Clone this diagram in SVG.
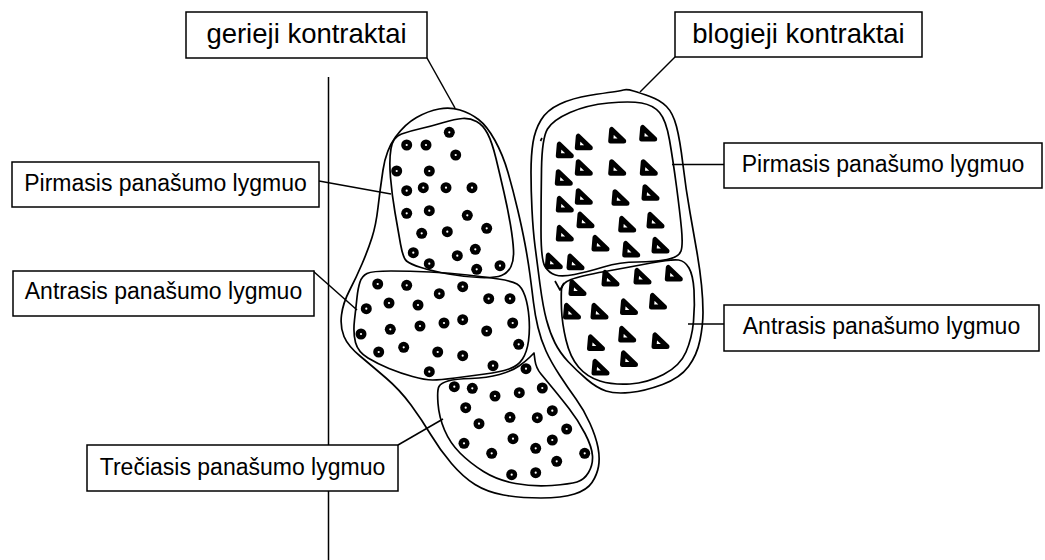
<svg xmlns="http://www.w3.org/2000/svg" width="1045" height="560" viewBox="0 0 1045 560">
<style>
.box{fill:#fff;stroke:#000;stroke-width:1.5}
.lbl{font-family:"Liberation Sans",Arial,sans-serif;font-size:23px;fill:#000;text-anchor:middle}
.big{font-size:27.5px}
.blob{fill:none;stroke:#000;stroke-width:1.7;stroke-linejoin:round}
.con{fill:none;stroke:#000;stroke-width:1.5}
</style>
<defs>
<g id="dot"><circle r="5.5" fill="#000"/><circle r="1.1" fill="#fff"/></g>
<polygon id="tri" points="-5,-6.5 -6,5 7,5" fill="#fff" stroke="#000" stroke-width="5" stroke-linejoin="round"/>
</defs>
<rect width="1045" height="560" fill="#fff"/>

<g id="connectors">
<line class="con" x1="328.5" y1="77" x2="328.5" y2="560"/>
<line class="con" x1="427" y1="58" x2="455" y2="108"/>
<line class="con" x1="675" y1="57" x2="640" y2="92"/>
<line class="con" x1="319" y1="181" x2="391" y2="194"/>
<line class="con" x1="313" y1="271" x2="357" y2="310"/>
<line class="con" x1="672" y1="164.5" x2="724" y2="164.5"/>
<line class="con" x1="688" y1="324" x2="724" y2="324"/>
<line class="con" x1="398" y1="445" x2="443" y2="419"/>
</g>

<g id="good-outer">
<path class="blob" d="M439,109 Q450,107 460,110 Q470,113 478.5,119.5 Q487,126 495,140.5 Q503,155 508,172.5 Q513,190 517.5,209 Q522,228 525,244 Q528,260 530,275 Q532,290 533.5,302.5 Q535,315 538,327.5 Q541,340 546,351 Q551,362 559.5,375 Q568,388 576,399 Q584,410 590,423.5 Q596,437 598,447.5 Q600,458 598.5,466.5 Q597,475 592,482.5 Q587,490 574.5,494 Q562,498 541,498 Q520,498 503.5,495 Q487,492 475,484.5 Q463,477 451.5,463.5 Q440,450 431,435 Q422,420 411,405 Q400,390 386,378 Q372,366 360,356 Q348,346 344,336.5 Q340,327 341.5,315 Q343,303 349.5,290.5 Q356,278 362,264 Q368,250 372,237.5 Q376,225 378,207.5 Q380,190 383,170 Q386,150 395.5,137 Q405,124 416.5,117.5 Q428,111 439,109 Z"/>
</g>

<g id="good-level1">
<path class="blob" d="M391,148.5 Q393,137 401.5,134 Q410,131 421,128.5 Q432,126 443.5,122.5 Q455,119 462.5,118.5 Q470,118 476.5,121.5 Q483,125 487.5,133.5 Q492,142 496,158.5 Q500,175 504,192.5 Q508,210 510.5,225 Q513,240 513.5,250 Q514,260 511,266.5 Q508,273 501.5,275.5 Q495,278 480,277.5 Q465,277 448.5,274 Q432,271 421,267.5 Q410,264 406.5,261 Q403,258 400.5,244 Q398,230 395,212.5 Q392,195 390.5,177.5 Q389,160 391,148.5 Z"/>
<use href="#dot" x="449.3" y="132.3"/><use href="#dot" x="406.7" y="145"/><use href="#dot" x="426" y="145"/>
<use href="#dot" x="455.7" y="155"/><use href="#dot" x="396.7" y="171"/><use href="#dot" x="429.3" y="171"/>
<use href="#dot" x="406.7" y="190.7"/><use href="#dot" x="423.3" y="187.7"/><use href="#dot" x="446" y="187.7"/>
<use href="#dot" x="472" y="187.7"/><use href="#dot" x="406.7" y="213.3"/><use href="#dot" x="429.3" y="210.7"/>
<use href="#dot" x="467.3" y="215.3"/><use href="#dot" x="486.7" y="228.3"/><use href="#dot" x="421.7" y="233.3"/>
<use href="#dot" x="447.3" y="231.7"/><use href="#dot" x="413.3" y="252.7"/><use href="#dot" x="475.3" y="249.3"/>
<use href="#dot" x="457.3" y="255.7"/><use href="#dot" x="429.3" y="263.7"/><use href="#dot" x="476.7" y="269.3"/>
<use href="#dot" x="500" y="265.7"/>
</g>

<g id="good-level2">
<path class="blob" d="M360,282 Q362,276 367,273.5 Q372,271 391,271 Q410,271 430,272 Q450,273 467.5,275 Q485,277 498.5,279 Q512,281 517,284 Q522,287 525,296 Q528,305 529,317.5 Q530,330 528.5,341 Q527,352 522.5,359 Q518,366 509,369 Q500,372 485,374 Q470,376 455,378 Q440,380 432.5,380 Q425,380 412.5,376.5 Q400,373 389,368.5 Q378,364 368,358 Q358,352 355.5,342.5 Q353,333 354.5,320 Q356,307 357,297.5 Q358,288 360,282 Z"/>
<use href="#dot" x="377.7" y="284"/><use href="#dot" x="406.7" y="285.3"/><use href="#dot" x="439.3" y="293.7"/>
<use href="#dot" x="462.7" y="286.7"/><use href="#dot" x="488.7" y="298.7"/><use href="#dot" x="510" y="298.7"/>
<use href="#dot" x="389" y="303"/><use href="#dot" x="418" y="305"/><use href="#dot" x="366.3" y="308.7"/>
<use href="#dot" x="444" y="323"/><use href="#dot" x="462.7" y="319.7"/><use href="#dot" x="420" y="326"/>
<use href="#dot" x="512.7" y="323"/><use href="#dot" x="390.3" y="329.3"/><use href="#dot" x="361" y="334"/>
<use href="#dot" x="486.7" y="331"/><use href="#dot" x="518.7" y="344.3"/><use href="#dot" x="403.7" y="347.3"/>
<use href="#dot" x="378.7" y="352"/><use href="#dot" x="437.7" y="352"/><use href="#dot" x="462.7" y="355.7"/>
<use href="#dot" x="493" y="365.7"/><use href="#dot" x="429.3" y="371.7"/>
</g>

<g id="good-level3">
<path class="blob" d="M438,403.5 Q437,390 439,386.5 Q441,383 448,381 Q455,379 471,378.5 Q487,378 499.5,374.5 Q512,371 519,366 Q526,361 530,357 L534,353 L535,360.5 Q536,368 541,374 Q546,380 553,388.5 Q560,397 569,408.5 Q578,420 585,433.5 Q592,447 592.5,456 Q593,465 588.5,472.5 Q584,480 577,482 Q570,484 552,485.5 Q534,487 515.5,483.5 Q497,480 483.5,471.5 Q470,463 460,453 Q450,443 444.5,430 Q439,417 438,403.5 Z"/>
<use href="#dot" x="526" y="368.7"/>
<use href="#dot" x="454.3" y="386.7"/><use href="#dot" x="472.3" y="388.3"/><use href="#dot" x="495" y="396"/>
<use href="#dot" x="519.3" y="392.7"/><use href="#dot" x="542.3" y="388"/><use href="#dot" x="465.7" y="407.7"/>
<use href="#dot" x="479" y="423.7"/><use href="#dot" x="510" y="417.3"/><use href="#dot" x="537.3" y="417.7"/>
<use href="#dot" x="552.3" y="410.7"/><use href="#dot" x="566.7" y="429"/><use href="#dot" x="513" y="438.7"/>
<use href="#dot" x="464" y="443.3"/><use href="#dot" x="552.3" y="440"/><use href="#dot" x="535.7" y="448.3"/>
<use href="#dot" x="584.7" y="453.3"/><use href="#dot" x="491.7" y="453.3"/><use href="#dot" x="556.7" y="461.3"/>
<use href="#dot" x="511.7" y="474.7"/><use href="#dot" x="535.7" y="472.7"/>
</g>

<g id="bad-outer">
<path class="blob" d="M623.5,90 Q627,89 633.5,91 Q640,93 650,96.5 Q660,100 666.5,106.5 Q673,113 676.5,126.5 Q680,140 683,165 Q686,190 690,212.5 Q694,235 697,252.5 Q700,270 701.5,285 Q703,300 703,312.5 Q703,325 700,340 Q697,355 688.5,366.5 Q680,378 662.5,384.5 Q645,391 630,392.5 Q615,394 606,391 Q597,388 587,379.5 Q577,371 568.5,362 Q560,353 555,343 Q550,333 546.5,320 Q543,307 540,284.5 Q537,262 535,246 Q533,230 532,210 Q531,190 531,172.5 Q531,155 533,142.5 Q535,130 541,120 Q547,110 560,104 Q573,98 589,95.5 Q605,93 612.5,92 Q620,91 623.5,90 Z"/>
</g>

<g id="bad-level1">
<path class="blob" d="M541.5,169 Q542,138 547.5,129 Q553,120 570,112.5 Q587,105 608.5,103 Q630,101 641.5,103 Q653,105 659.5,112.5 Q666,120 669.5,140 Q673,160 676.5,186.5 Q680,213 681.5,229 Q683,245 681,251 Q679,257 667,259.5 Q655,262 637.5,262 Q620,262 603.5,267 Q587,272 574.5,274.5 Q562,277 555.5,275 Q549,273 545,266.5 Q541,260 541,230 Q541,200 541.5,169 Z"/>
<polyline class="blob" points="540.5,141 542,138"/>
<use href="#tri" x="616.7" y="136"/><use href="#tri" x="647.7" y="134"/><use href="#tri" x="583.3" y="142.7"/>
<use href="#tri" x="564.3" y="150.7"/><use href="#tri" x="583.3" y="168.3"/><use href="#tri" x="616.7" y="168.3"/>
<use href="#tri" x="648.3" y="168.3"/><use href="#tri" x="563.3" y="178.3"/><use href="#tri" x="650" y="193.3"/>
<use href="#tri" x="583.3" y="197.3"/><use href="#tri" x="620" y="198.3"/><use href="#tri" x="564.3" y="205"/>
<use href="#tri" x="585" y="220.7"/><use href="#tri" x="626.7" y="225"/><use href="#tri" x="655" y="221"/>
<use href="#tri" x="564.3" y="234"/><use href="#tri" x="600" y="244"/><use href="#tri" x="630.7" y="250"/>
<use href="#tri" x="660" y="246"/><use href="#tri" x="553.3" y="261.7"/><use href="#tri" x="575" y="262.7"/>
</g>

<g id="bad-level2">
<path class="blob" d="M561.5,289 Q562,283 571,279.5 Q580,276 605,271.5 Q630,267 651,263 Q672,259 678.5,260 Q685,261 689,268 Q693,275 694,290 Q695,305 693.5,321.5 Q692,338 686,352 Q680,366 663.5,374.5 Q647,383 630,384 Q613,385 600,381 Q587,377 578.5,367 Q570,357 566,340 Q562,323 561.5,309 Q561,295 561.5,289 Z"/>
<polyline class="blob" points="555,281 560,290 564,283"/>
<use href="#tri" x="610" y="279"/><use href="#tri" x="642" y="277"/><use href="#tri" x="673.3" y="274"/>
<use href="#tri" x="577" y="288.5"/><use href="#tri" x="571.5" y="312"/><use href="#tri" x="599" y="312"/>
<use href="#tri" x="628.5" y="307.5"/><use href="#tri" x="657.5" y="302"/><use href="#tri" x="595.5" y="343.5"/>
<use href="#tri" x="626.7" y="335"/><use href="#tri" x="660" y="341.5"/><use href="#tri" x="628.5" y="359.5"/>
<use href="#tri" x="600" y="368"/>
</g>

<g id="label-good">
<rect class="box" x="186" y="12" width="241" height="46"/>
<text class="lbl big" x="306.5" y="43">gerieji kontraktai</text>
</g>
<g id="label-bad">
<rect class="box" x="675" y="12" width="247" height="45"/>
<text class="lbl big" x="798.5" y="43">blogieji kontraktai</text>
</g>
<g id="label-good-1">
<rect class="box" x="12" y="162" width="307" height="45"/>
<text class="lbl" x="165.5" y="191">Pirmasis panašumo lygmuo</text>
</g>
<g id="label-good-2">
<rect class="box" x="13" y="271" width="301" height="45"/>
<text class="lbl" x="163.5" y="298.5">Antrasis panašumo lygmuo</text>
</g>
<g id="label-good-3">
<rect class="box" x="87" y="445" width="311" height="46"/>
<text class="lbl" x="242.5" y="475">Trečiasis panašumo lygmuo</text>
</g>
<g id="label-bad-1">
<rect class="box" x="724" y="143" width="318" height="45"/>
<text class="lbl" x="883" y="172">Pirmasis panašumo lygmuo</text>
</g>
<g id="label-bad-2">
<rect class="box" x="724" y="305" width="315" height="46"/>
<text class="lbl" x="881.5" y="333.5">Antrasis panašumo lygmuo</text>
</g>
</svg>
